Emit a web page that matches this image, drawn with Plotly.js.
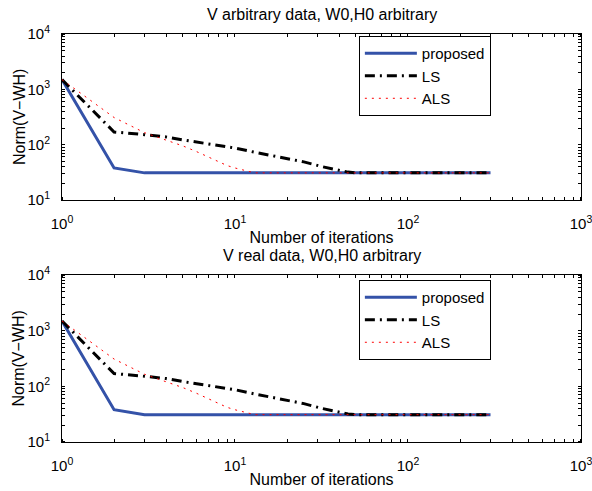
<!DOCTYPE html>
<html>
<head>
<meta charset="utf-8">
<script src="https://cdn.plot.ly/plotly-3.0.1.min.js"></script>
<style>html,body{margin:0;padding:0;background:#fff;}</style>
</head>
<body>
<div id="chart" style="width:592px;height:491px;"></div>
<script>
// Data
var proposedIter = [1, 2, 3, 300];
var proposedNorm = [1500, 38, 31, 31];

var lsIter = [1, 2, 3, 4, 5, 7, 10, 13, 18, 25, 32, 45, 50, 300];
var lsNorm = [1500, 170, 152, 138, 122, 104, 87, 73, 60, 49, 40, 32, 31, 31];

var alsIter = [1, 2, 3, 4, 5, 6, 7, 8, 9, 10, 11, 12, 13, 300];
var alsNorm = [1500, 310, 165, 120, 95, 75, 60, 49, 42, 38, 35, 33, 31, 31];

var seriesNames = ['proposed', 'LS', 'ALS'];
var subplotTitles = ['V arbitrary data, W0,H0 arbitrary', 'V real data, W0,H0 arbitrary'];
var xTitle = 'Number of iterations';
var yTitle = 'Norm(V\u2212WH)';
var xTickVals = [1, 10, 100, 1000];
var xTickText = ['10<sup>0</sup>', '10<sup>1</sup>', '10<sup>2</sup>', '10<sup>3</sup>'];
var yTickVals = [10, 100, 1000, 10000];
var yTickText = ['10<sup>1</sup>', '10<sup>2</sup>', '10<sup>3</sup>', '10<sup>4</sup>'];

var FONT = 'Liberation Sans, Arial, Helvetica, sans-serif';
var blue = 'rgb(52,82,168)';
var XR = [0, 3.0002], YR = [1, 4.0002];
var TOP_DOMAIN = [0.593, 1], BOTTOM_DOMAIN = [0, 0.409];

function makeTraces(xa, ya, leg) {
  return [
    {x: proposedIter, y: proposedNorm, name: seriesNames[0], type: 'scatter', mode: 'lines',
     xaxis: xa, yaxis: ya, legend: leg, line: {color: blue, width: 3}},
    {x: lsIter, y: lsNorm, name: seriesNames[1], type: 'scatter', mode: 'lines',
     xaxis: xa, yaxis: ya, legend: leg, line: {color: 'black', width: 3, dash: '10px,5px,2px,5px'}},
    {x: alsIter, y: alsNorm, name: seriesNames[2], type: 'scatter', mode: 'lines',
     xaxis: xa, yaxis: ya, legend: leg, line: {color: 'red', width: 1, dash: '2px,5px'}}
  ];
}

var traces = makeTraces('x', 'y', 'legend').concat(makeTraces('x2', 'y2', 'legend2'));

// main axes: labels + minor inside ticks; transparent outside major ticks set the label gap
function xaxisDef(anchor) {
  return {
    type: 'log', range: XR, anchor: anchor,
    tickvals: xTickVals, ticktext: xTickText,
    ticks: 'outside', ticklen: 10, tickwidth: 1, tickcolor: 'rgba(0,0,0,0)',
    minor: {ticks: 'inside', ticklen: 3, tickcolor: 'black', dtick: 'D1'},
    showline: true, linecolor: 'black', linewidth: 1, mirror: 'ticks',
    showgrid: false, zeroline: false,
    ticklabeloverflow: 'allow',
    tickfont: {family: FONT, size: 15, color: 'black'},
    title: {text: xTitle, font: {family: FONT, size: 16, color: 'black'}, standoff: 0},
    automargin: false
  };
}
function yaxisDef(anchor, domain) {
  return {
    type: 'log', range: YR, anchor: anchor, domain: domain,
    tickvals: yTickVals, ticktext: yTickText,
    ticks: 'outside', ticklen: 8, tickwidth: 1, tickcolor: 'rgba(0,0,0,0)',
    minor: {ticks: 'inside', ticklen: 3, tickcolor: 'black', dtick: 'D1'},
    showline: true, linecolor: 'black', linewidth: 1, mirror: 'ticks',
    showgrid: false, zeroline: false,
    ticklabeloverflow: 'allow',
    tickfont: {family: FONT, size: 15, color: 'black'},
    automargin: false
  };
}
// overlay axes: inside major ticks only
function xTickAxis(over, anchor) {
  return {
    type: 'log', range: XR, overlaying: over, anchor: anchor,
    tickvals: xTickVals, showticklabels: false,
    ticks: 'inside', ticklen: 5, tickwidth: 1, tickcolor: 'black', mirror: 'ticks',
    showline: false, showgrid: false, zeroline: false, automargin: false
  };
}
function yTickAxis(over, anchor) {
  return {
    type: 'log', range: YR, overlaying: over, anchor: anchor, side: 'left',
    tickvals: yTickVals, showticklabels: false,
    ticks: 'inside', ticklen: 5, tickwidth: 1, tickcolor: 'black', mirror: 'ticks',
    showline: false, showgrid: false, zeroline: false, automargin: false
  };
}

function legendDef(y) {
  return {
    x: 0.572, y: y, xanchor: 'left', yanchor: 'top',
    bgcolor: 'white', bordercolor: 'black', borderwidth: 1,
    font: {family: FONT, size: 15, color: 'black'},
    itemwidth: 52, tracegroupgap: 0
  };
}

function yTitleAnn(domain) {
  return {text: yTitle, xref: 'paper', yref: 'paper', x: 0, xshift: -43, xanchor: 'center',
          y: (domain[0] + domain[1]) / 2, yanchor: 'middle', textangle: -90,
          showarrow: false, font: {family: FONT, size: 16, color: 'black'}};
}

var layout = {
  width: 592, height: 491,
  margin: {l: 62, r: 11, t: 34, b: 49},
  paper_bgcolor: 'white', plot_bgcolor: 'white',
  font: {family: FONT, size: 15, color: 'black'},
  showlegend: true,
  xaxis: xaxisDef('y'),
  yaxis: yaxisDef('x', TOP_DOMAIN),
  xaxis2: xaxisDef('y2'),
  yaxis2: yaxisDef('x2', BOTTOM_DOMAIN),
  xaxis3: xTickAxis('x', 'y'),
  yaxis3: yTickAxis('y', 'x'),
  xaxis4: xTickAxis('x2', 'y2'),
  yaxis4: yTickAxis('y2', 'x2'),
  legend: legendDef(0.995),
  legend2: legendDef(0.397),
  annotations: [
    {text: subplotTitles[0], xref: 'paper', yref: 'paper', x: 0.5, y: TOP_DOMAIN[1], yanchor: 'bottom', yshift: 9,
     showarrow: false, font: {family: FONT, size: 16, color: 'black'}},
    {text: subplotTitles[1], xref: 'paper', yref: 'paper', x: 0.5, y: BOTTOM_DOMAIN[1], yanchor: 'bottom', yshift: 9,
     showarrow: false, font: {family: FONT, size: 16, color: 'black'}},
    yTitleAnn(TOP_DOMAIN),
    yTitleAnn(BOTTOM_DOMAIN)
  ]
};

Plotly.newPlot('chart', traces, layout, {displayModeBar: false, staticPlot: true});
</script>
</body>
</html>
